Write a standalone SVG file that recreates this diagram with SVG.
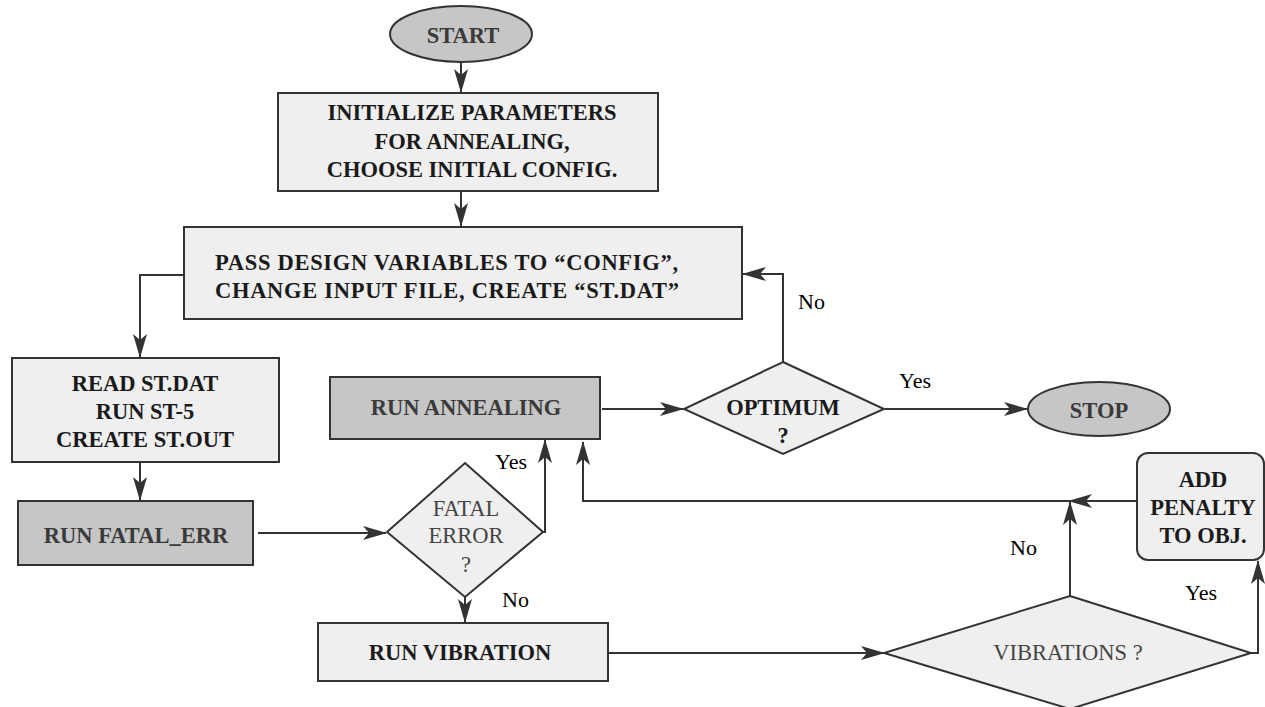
<svg xmlns="http://www.w3.org/2000/svg" width="1265" height="707" viewBox="0 0 1265 707">
<style>
.light{fill:#efefef;stroke:#333;stroke-width:2}
.dark{fill:#c6c6c6;stroke:#333;stroke-width:2}
.bt{font-family:"Liberation Serif","Times New Roman",serif;font-weight:bold;font-size:22.5px;fill:#1a1a1a;text-anchor:middle}
.bd{font-family:"Liberation Serif","Times New Roman",serif;font-weight:bold;font-size:22.5px;fill:#3a3a3a;text-anchor:middle}
.nt{font-family:"Liberation Serif","Times New Roman",serif;font-size:22.5px;fill:#444;text-anchor:middle}
.lbl{font-family:"Liberation Serif","Times New Roman",serif;font-size:22px;fill:#000}
.con{fill:none;stroke:#333;stroke-width:2}
</style>
<defs>
<marker id="ah" viewBox="0 0 24 14" markerWidth="24" markerHeight="14" refX="23" refY="7" orient="auto" markerUnits="userSpaceOnUse">
<path d="M0,0 L24,7 L0,14 L6,7 z" fill="#333"/>
</marker>
</defs>
<rect width="1265" height="707" fill="#fff"/>

<g id="connectors">
<line class="con" x1="461" y1="62" x2="461" y2="92" marker-end="url(#ah)"/>
<line class="con" x1="461" y1="192" x2="461" y2="226" marker-end="url(#ah)"/>
<polyline class="con" points="184,275 140,275 140,357" marker-end="url(#ah)"/>
<line class="con" x1="140" y1="462" x2="140" y2="500" marker-end="url(#ah)"/>
<line class="con" x1="258" y1="533" x2="386" y2="533" marker-end="url(#ah)"/>
<polyline class="con" points="543,532 545,532 545,440" marker-end="url(#ah)"/>
<line class="con" x1="465" y1="597" x2="465" y2="622" marker-end="url(#ah)"/>
<line class="con" x1="602" y1="409" x2="683" y2="409" marker-end="url(#ah)"/>
<polyline class="con" points="783,362 783,274 743,274" marker-end="url(#ah)"/>
<line class="con" x1="885" y1="409" x2="1027" y2="409" marker-end="url(#ah)"/>
<line class="con" x1="608" y1="653" x2="884" y2="653" marker-end="url(#ah)"/>
<line class="con" x1="1070" y1="596" x2="1070" y2="502" marker-end="url(#ah)"/>
<line class="con" x1="1137" y1="501" x2="1069" y2="501" marker-end="url(#ah)"/>
<polyline class="con" points="1070,501 583,501 583,442" marker-end="url(#ah)"/>
<polyline class="con" points="1251,653 1258,653 1258,561" marker-end="url(#ah)"/>
<text class="lbl" x="495" y="469">Yes</text>
<text class="lbl" x="502" y="607">No</text>
<text class="lbl" x="798" y="309">No</text>
<text class="lbl" x="899" y="388">Yes</text>
<text class="lbl" x="1010" y="555">No</text>
<text class="lbl" x="1185" y="600">Yes</text>
</g>

<g id="start">
<ellipse class="dark" cx="461" cy="34" rx="71" ry="28"/>
<text class="bd" x="463" y="43">START</text>
</g>

<g id="init">
<rect class="light" x="278" y="93" width="380" height="98"/>
<text class="bt" x="472" y="120">INITIALIZE PARAMETERS</text>
<text class="bt" x="472" y="149">FOR ANNEALING,</text>
<text class="bt" x="472" y="177">CHOOSE INITIAL CONFIG.</text>
</g>

<g id="pass">
<rect class="light" x="184" y="227" width="558" height="92"/>
<text class="bt" x="215" y="270" style="text-anchor:start;letter-spacing:0.7px">PASS DESIGN VARIABLES TO “CONFIG”,</text>
<text class="bt" x="215" y="298" style="text-anchor:start;letter-spacing:0.7px">CHANGE INPUT FILE, CREATE “ST.DAT”</text>
</g>

<g id="read">
<rect class="light" x="12" y="358" width="267" height="104"/>
<text class="bt" x="145" y="391">READ ST.DAT</text>
<text class="bt" x="145" y="419">RUN ST-5</text>
<text class="bt" x="145" y="447">CREATE ST.OUT</text>
</g>

<g id="fatal-err">
<rect class="dark" x="18" y="501" width="235" height="64"/>
<text class="bd" x="136" y="543">RUN FATAL_ERR</text>
</g>

<g id="fatal-decision">
<polygon class="light" points="465,463 543,532 465,597 387,532"/>
<text class="nt" x="466" y="516">FATAL</text>
<text class="nt" x="466" y="543">ERROR</text>
<text class="nt" x="466" y="572">?</text>
</g>

<g id="annealing">
<rect class="dark" x="330" y="377" width="270" height="62"/>
<text class="bd" x="466" y="415">RUN ANNEALING</text>
</g>

<g id="optimum">
<polygon class="light" points="783,362 884,409 783,454 684,409"/>
<text class="bt" x="783" y="415">OPTIMUM</text>
<text class="bt" x="783" y="443">?</text>
</g>

<g id="stop">
<ellipse class="dark" cx="1099" cy="409" rx="71" ry="27"/>
<text class="bd" x="1099" y="418">STOP</text>
</g>

<g id="vibration">
<rect class="light" x="318" y="623" width="290" height="58"/>
<text class="bt" x="460" y="660">RUN VIBRATION</text>
</g>

<g id="vibrations-decision">
<polygon class="light" points="1070,596 1251,653 1070,709 884,653"/>
<text class="nt" x="1068" y="660">VIBRATIONS ?</text>
</g>

<g id="penalty">
<rect class="light" x="1137" y="453" width="127" height="107" rx="11"/>
<text class="bt" x="1203" y="487">ADD</text>
<text class="bt" x="1203" y="515">PENALTY</text>
<text class="bt" x="1203" y="543">TO OBJ.</text>
</g>
</svg>
